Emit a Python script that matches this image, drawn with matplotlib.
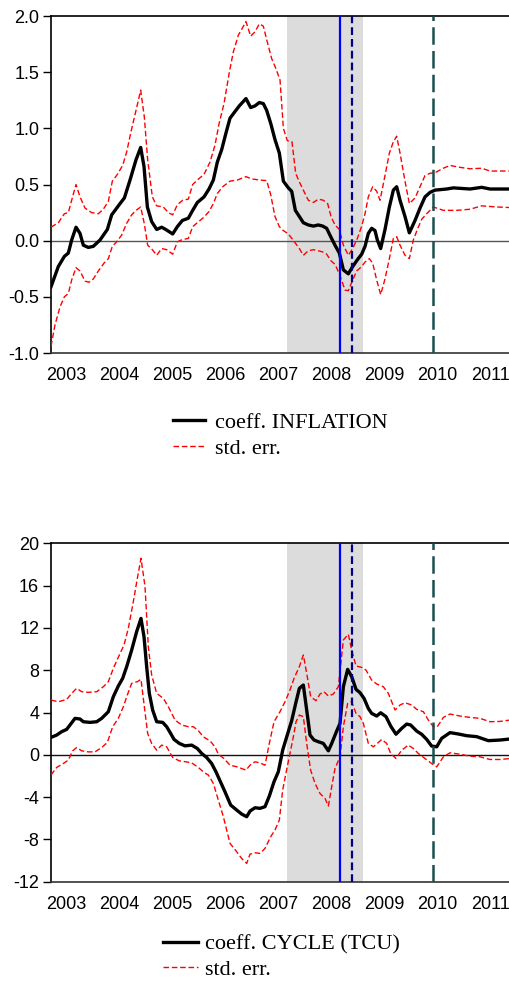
import matplotlib
matplotlib.use('Agg')
import matplotlib.pyplot as plt
from matplotlib.lines import Line2D

# recursive coefficient estimates, x in decimal years (monthly sample)
infl_t = [2003.217, 2003.355, 2003.469, 2003.544, 2003.607, 2003.689, 2003.764, 2003.827, 2003.921, 2004.016,
          2004.142, 2004.280, 2004.362, 2004.425, 2004.519, 2004.601, 2004.708, 2004.821, 2004.909, 2004.972,
          2005.035, 2005.116, 2005.211, 2005.305, 2005.381, 2005.513, 2005.601, 2005.695, 2005.808, 2005.890,
          2005.978, 2006.104, 2006.198, 2006.280, 2006.355, 2006.437, 2006.519, 2006.594, 2006.689, 2006.770,
          2006.896, 2006.984, 2007.066, 2007.148, 2007.223, 2007.286, 2007.362, 2007.443, 2007.525, 2007.601,
          2007.695, 2007.758, 2007.827, 2007.903, 2007.978, 2008.072, 2008.167, 2008.261, 2008.343, 2008.418,
          2008.500, 2008.575, 2008.657, 2008.733, 2008.827, 2008.909, 2008.997, 2009.079, 2009.142, 2009.204,
          2009.267, 2009.330, 2009.374, 2009.437, 2009.519, 2009.601, 2009.676, 2009.739, 2009.802, 2009.896,
          2009.978, 2010.085, 2010.179, 2010.274, 2010.368, 2010.462, 2010.682, 2010.808, 2011.123, 2011.343,
          2011.500, 2011.877]
infl_coef = [-0.41, -0.23, -0.14, -0.11, 0.006, 0.12, 0.065, -0.04, -0.06, -0.05,
             0.006, 0.10, 0.23, 0.27, 0.33, 0.38, 0.54, 0.72, 0.83, 0.66,
             0.30, 0.17, 0.10, 0.12, 0.10, 0.06, 0.125, 0.18, 0.20, 0.27,
             0.34, 0.39, 0.46, 0.54, 0.70, 0.81, 0.96, 1.09, 1.15, 1.20,
             1.265, 1.185, 1.20, 1.23, 1.22, 1.16, 1.045, 0.90, 0.78, 0.53,
             0.47, 0.44, 0.27, 0.215, 0.16, 0.14, 0.13, 0.14, 0.13, 0.11,
             0.03, -0.04, -0.11, -0.26, -0.295, -0.23, -0.17, -0.12, -0.05, 0.065,
             0.11, 0.09, 0.006, -0.07, 0.10, 0.30, 0.45, 0.48, 0.36, 0.215,
             0.07, 0.18, 0.29, 0.39, 0.43, 0.45, 0.46, 0.47, 0.46, 0.475,
             0.46, 0.46]

infl_up_t = [2003.217, 2003.355, 2003.469, 2003.544, 2003.607, 2003.689, 2003.764, 2003.859, 2003.984, 2004.110,
             2004.204, 2004.299, 2004.374, 2004.469, 2004.569, 2004.645, 2004.726, 2004.821, 2004.909, 2004.978,
             2005.041, 2005.129, 2005.211, 2005.336, 2005.431, 2005.513, 2005.601, 2005.701, 2005.808, 2005.890,
             2005.978, 2006.104, 2006.217, 2006.311, 2006.387, 2006.481, 2006.582, 2006.657, 2006.752, 2006.896,
             2006.984, 2007.066, 2007.148, 2007.223, 2007.286, 2007.381, 2007.462, 2007.538, 2007.601, 2007.676,
             2007.764, 2007.833, 2007.896, 2007.978, 2008.072, 2008.167, 2008.261, 2008.355, 2008.437, 2008.500,
             2008.575, 2008.657, 2008.733, 2008.827, 2008.909, 2008.997, 2009.079, 2009.142, 2009.204, 2009.286,
             2009.362, 2009.425, 2009.519, 2009.601, 2009.676, 2009.739, 2009.802, 2009.896, 2009.978, 2010.085,
             2010.179, 2010.274, 2010.368, 2010.462, 2010.620, 2010.745, 2010.903, 2011.123, 2011.343, 2011.500,
             2011.877]
infl_up = [0.12, 0.16, 0.24, 0.25, 0.36, 0.50, 0.39, 0.29, 0.25, 0.24,
           0.28, 0.35, 0.53, 0.59, 0.67, 0.79, 0.97, 1.16, 1.34, 1.10,
           0.72, 0.39, 0.31, 0.30, 0.25, 0.23, 0.32, 0.36, 0.37, 0.50,
           0.54, 0.59, 0.70, 0.85, 1.04, 1.22, 1.50, 1.68, 1.83, 1.95,
           1.82, 1.86, 1.93, 1.91, 1.79, 1.62, 1.53, 1.43, 1.00, 0.89,
           0.88, 0.60, 0.53, 0.45, 0.36, 0.34, 0.37, 0.36, 0.33, 0.215,
           0.14, 0.10, -0.04, -0.13, -0.07, 0.02, 0.13, 0.24, 0.39, 0.48,
           0.44, 0.36, 0.58, 0.78, 0.88, 0.93, 0.78, 0.53, 0.33, 0.38,
           0.48, 0.58, 0.60, 0.605, 0.645, 0.67, 0.655, 0.64, 0.645, 0.62,
           0.62]

infl_lo_t = [2003.217, 2003.292, 2003.387, 2003.469, 2003.544, 2003.607, 2003.689, 2003.764, 2003.859, 2003.934,
             2004.016, 2004.110, 2004.217, 2004.299, 2004.374, 2004.456, 2004.550, 2004.645, 2004.739, 2004.821,
             2004.909, 2004.978, 2005.041, 2005.129, 2005.211, 2005.305, 2005.399, 2005.513, 2005.601, 2005.695,
             2005.808, 2005.890, 2005.978, 2006.104, 2006.198, 2006.280, 2006.355, 2006.456, 2006.594, 2006.733,
             2006.896, 2007.003, 2007.148, 2007.286, 2007.362, 2007.443, 2007.525, 2007.601, 2007.695, 2007.777,
             2007.840, 2007.903, 2007.978, 2008.072, 2008.167, 2008.261, 2008.343, 2008.418, 2008.500, 2008.575,
             2008.657, 2008.764, 2008.827, 2008.909, 2008.984, 2009.079, 2009.142, 2009.223, 2009.286, 2009.362,
             2009.437, 2009.519, 2009.601, 2009.676, 2009.739, 2009.802, 2009.896, 2009.978, 2010.053, 2010.129,
             2010.211, 2010.305, 2010.431, 2010.620, 2010.871, 2011.123, 2011.343, 2011.626, 2011.877]
infl_lo = [-0.94, -0.75, -0.59, -0.50, -0.47, -0.35, -0.24, -0.27, -0.36, -0.37,
           -0.34, -0.27, -0.20, -0.16, -0.05, -0.01, 0.05, 0.155, 0.23, 0.27,
           0.30, 0.15, -0.04, -0.08, -0.13, -0.07, -0.08, -0.12, -0.01, 0.01,
           0.02, 0.125, 0.16, 0.21, 0.26, 0.33, 0.42, 0.48, 0.53, 0.54,
           0.57, 0.55, 0.54, 0.535, 0.41, 0.215, 0.125, 0.09, 0.06, 0.01,
           -0.03, -0.07, -0.13, -0.09, -0.08, -0.09, -0.10, -0.12, -0.18, -0.21,
           -0.295, -0.44, -0.445, -0.35, -0.27, -0.23, -0.19, -0.16, -0.20, -0.35,
           -0.48, -0.34, -0.16, 0.02, 0.036, -0.04, -0.13, -0.16, 0.006, 0.10,
           0.19, 0.24, 0.30, 0.27, 0.27, 0.28, 0.31, 0.30, 0.295]

cyc_t = [2003.217, 2003.324, 2003.418, 2003.513, 2003.575, 2003.670, 2003.764, 2003.827, 2003.953, 2004.079,
         2004.173, 2004.299, 2004.393, 2004.487, 2004.569, 2004.645, 2004.739, 2004.833, 2004.915, 2004.972,
         2005.022, 2005.072, 2005.135, 2005.211, 2005.324, 2005.399, 2005.475, 2005.538, 2005.638, 2005.745,
         2005.871, 2005.978, 2006.060, 2006.154, 2006.248, 2006.330, 2006.406, 2006.500, 2006.607, 2006.720,
         2006.814, 2006.909, 2006.972, 2007.066, 2007.160, 2007.255, 2007.336, 2007.425, 2007.506, 2007.588,
         2007.664, 2007.758, 2007.840, 2007.903, 2007.978, 2008.041, 2008.104, 2008.179, 2008.261, 2008.355,
         2008.450, 2008.513, 2008.607, 2008.670, 2008.733, 2008.814, 2008.890, 2008.972, 2009.047, 2009.123,
         2009.204, 2009.267, 2009.362, 2009.437, 2009.538, 2009.626, 2009.726, 2009.833, 2009.928, 2010.003,
         2010.116, 2010.211, 2010.305, 2010.399, 2010.494, 2010.588, 2010.745, 2010.903, 2011.060, 2011.248,
         2011.469, 2011.689, 2011.877]
cyc_coef = [1.65, 1.87, 2.19, 2.41, 2.82, 3.45, 3.39, 3.13, 3.07, 3.13,
            3.45, 4.08, 5.5, 6.51, 7.23, 8.34, 9.91, 11.65, 12.9, 11.17,
            8.34, 5.81, 4.24, 3.13, 3.07, 2.66, 2.02, 1.46, 1.08, 0.85,
            0.92, 0.6, 0.13, -0.25, -0.82, -1.61, -2.46, -3.5, -4.75, -5.22,
            -5.6, -5.85, -5.32, -5.0, -5.06, -4.9, -3.9, -2.54, -1.6, 0.44,
            1.7, 3.23, 5.0, 6.29, 6.6, 4.24, 1.87, 1.4, 1.24, 1.08,
            0.38, 1.08, 2.25, 2.98, 6.44, 8.08, 7.39, 6.19, 5.88, 5.34,
            4.39, 3.92, 3.67, 3.98, 3.61, 2.72, 1.95, 2.5, 2.91, 2.82,
            2.25, 1.94, 1.46, 0.83, 0.76, 1.56, 2.1, 1.97, 1.81, 1.72,
            1.34, 1.4, 1.5]

cyc_up_t = [2003.217, 2003.355, 2003.513, 2003.607, 2003.701, 2003.796, 2003.921, 2004.079, 2004.204, 2004.299,
            2004.393, 2004.506, 2004.594, 2004.676, 2004.770, 2004.846, 2004.915, 2004.991, 2005.053, 2005.116,
            2005.211, 2005.336, 2005.431, 2005.557, 2005.682, 2005.808, 2005.903, 2005.997, 2006.091, 2006.217,
            2006.311, 2006.374, 2006.481, 2006.594, 2006.733, 2006.896, 2006.972, 2007.066, 2007.160, 2007.255,
            2007.336, 2007.425, 2007.538, 2007.632, 2007.726, 2007.802, 2007.903, 2007.978, 2008.041, 2008.116,
            2008.217, 2008.292, 2008.368, 2008.450, 2008.544, 2008.638, 2008.733, 2008.827, 2008.890, 2008.972,
            2009.079, 2009.160, 2009.267, 2009.362, 2009.487, 2009.582, 2009.708, 2009.802, 2009.896, 2010.022,
            2010.116, 2010.242, 2010.336, 2010.431, 2010.506, 2010.620, 2010.745, 2010.934, 2011.123, 2011.311,
            2011.500, 2011.689, 2011.877]
cyc_up = [5.18, 5.02, 5.24, 5.81, 6.29, 5.97, 5.91, 5.97, 6.44, 6.92,
          8.18, 9.44, 10.38, 11.96, 14.48, 16.69, 18.58, 15.9, 10.23, 7.55,
          5.81, 5.34, 4.55, 3.29, 2.82, 2.66, 2.66, 2.28, 1.7, 1.32,
          0.76, 0.06, -0.35, -0.98, -1.14, -1.45, -0.98, -0.66, -0.76, -0.98,
          1.08, 3.13, 4.08, 5.02, 6.13, 7.23, 8.34, 9.44, 7.71, 5.5,
          5.12, 5.75, 5.97, 5.56, 5.75, 6.44, 10.86, 11.4, 9.91, 8.4,
          8.27, 8.02, 7.07, 6.7, 6.44, 5.81, 4.24, 4.71, 4.93, 4.71,
          4.3, 4.08, 3.29, 2.66, 2.66, 3.54, 3.86, 3.67, 3.54, 3.45,
          3.13, 3.16, 3.29]

cyc_lo_t = [2003.217, 2003.324, 2003.450, 2003.544, 2003.626, 2003.701, 2003.796, 2003.921, 2004.047, 2004.173,
            2004.280, 2004.381, 2004.487, 2004.582, 2004.657, 2004.739, 2004.846, 2004.915, 2004.978, 2005.041,
            2005.116, 2005.211, 2005.305, 2005.399, 2005.513, 2005.638, 2005.764, 2005.871, 2005.997, 2006.104,
            2006.186, 2006.280, 2006.374, 2006.469, 2006.594, 2006.720, 2006.814, 2006.909, 2006.972, 2007.066,
            2007.160, 2007.255, 2007.362, 2007.443, 2007.525, 2007.588, 2007.664, 2007.726, 2007.789, 2007.840,
            2007.903, 2007.978, 2008.041, 2008.116, 2008.198, 2008.292, 2008.387, 2008.450, 2008.513, 2008.575,
            2008.670, 2008.733, 2008.814, 2008.890, 2008.972, 2009.047, 2009.110, 2009.204, 2009.299, 2009.374,
            2009.456, 2009.550, 2009.626, 2009.726, 2009.833, 2009.959, 2010.053, 2010.148, 2010.274, 2010.399,
            2010.494, 2010.620, 2010.745, 2010.934, 2011.123, 2011.311, 2011.500, 2011.689, 2011.877]
cyc_lo = [-1.91, -1.19, -0.82, -0.5, 0.38, 0.69, 0.38, 0.28, 0.28, 0.69,
          1.17, 2.66, 3.45, 4.55, 5.66, 6.76, 6.92, 7.14, 4.55, 2.02,
          1.08, 0.44, 0.92, 0.76, -0.25, -0.57, -0.66, -0.76, -1.19, -1.67,
          -1.91, -2.7, -4.28, -5.85, -8.37, -9.16, -9.8, -10.27, -9.39, -9.26,
          -9.32, -8.85, -7.74, -7.11, -6.17, -3.33, -1.38, 0.13, 1.7, 3.13,
          3.76, 3.61, 1.08, -1.45, -2.7, -3.65, -4.12, -4.84, -3.02, -1.29,
          -0.19, 2.66, 4.87, 5.02, 3.92, 3.61, 2.98, 1.08, 0.76, 1.08,
          1.45, 1.08, 0.13, -0.35, 0.44, 0.92, 0.6, 0.13, -0.35, -0.82,
          -1.14, -0.19, 0.19, 0.06, -0.13, -0.19, -0.44, -0.44, -0.35]

# event dates and crisis window
crisis_start, crisis_end = 2007.670, 2009.110
event_solid = 2008.670
event_dash = 2008.903
event_long = 2010.431

years = list(range(2003, 2012))
t_min, t_max = 2003.217, 2011.877

plt.rcParams['font.family'] = ['Liberation Sans', 'DejaVu Sans']

fig = plt.figure(figsize=(5.10, 9.82), dpi=100)
ax1 = fig.add_axes([0.1, 0.6405, 0.9, 0.3432])
ax2 = fig.add_axes([0.1, 0.1021, 0.9, 0.3446])


def draw_panel(ax, t, coef, tu, up, tl, lo, ylim, yticks, ylabels, zero_color):
    ax.axvspan(crisis_start, crisis_end, color='#dcdcdc', lw=0, zorder=0)
    ax.axhline(0, color=zero_color, lw=1.0, zorder=1)
    ax.plot(tu, up, color='red', lw=1.0, ls=(0, (4, 2)), zorder=3)
    ax.plot(tl, lo, color='red', lw=1.0, ls=(0, (4, 2)), zorder=3)
    ax.plot(t, coef, color='black', lw=2.4, zorder=4, solid_joinstyle='round')
    ax.axvline(event_solid, color='#0000ff', lw=1.6, zorder=5)
    ax.axvline(event_dash, color='#000080', lw=1.6, ls=(0, (3.5, 1.8)), zorder=5)
    ax.axvline(event_long, color='#1b4f4f', lw=1.8, ls=(0, (7, 2.5)), zorder=5)
    ax.set_xlim(t_min, t_max)
    ax.set_ylim(*ylim)
    ax.set_yticks(yticks)
    ax.set_yticklabels(ylabels)
    ax.set_xticks([y + 0.5 for y in years])
    ax.set_xticklabels([str(y) for y in years])
    ax.tick_params(axis='y', direction='out', length=6, width=1, pad=2.5, labelsize=13)
    ax.tick_params(axis='x', length=0, pad=10, labelsize=13)
    ax.spines['right'].set_visible(False)
    for s in ['top', 'left', 'bottom']:
        ax.spines[s].set_linewidth(1.2)
    ax.spines['bottom'].set_color('#333333')


draw_panel(ax1, infl_t, infl_coef, infl_up_t, infl_up, infl_lo_t, infl_lo,
           (-1.0, 2.0), [-1.0, -0.5, 0.0, 0.5, 1.0, 1.5, 2.0],
           ['-1.0', '-0.5', '0.0', '0.5', '1.0', '1.5', '2.0'], '#555555')
draw_panel(ax2, cyc_t, cyc_coef, cyc_up_t, cyc_up, cyc_lo_t, cyc_lo,
           (-12, 20), [-12, -8, -4, 0, 4, 8, 12, 16, 20],
           ['-12', '-8', '-4', '0', '4', '8', '12', '16', '20'], '#111111')

legend_font = {'family': 'Liberation Serif', 'size': 16}
handles_top = [Line2D([], [], color='black', lw=2.4),
               Line2D([], [], color='red', lw=1.0, ls=(0, (4, 2)))]
fig.legend(handles_top, ['coeff. INFLATION', 'std. err.'], loc='upper left',
           bbox_to_anchor=(0.339, 0.580), frameon=False, prop=legend_font,
           handlelength=1.45, handletextpad=0.45, labelspacing=0.25, borderpad=0, borderaxespad=0)
handles_bot = [Line2D([], [], color='black', lw=2.4),
               Line2D([], [], color='red', lw=1.0, ls=(0, (4, 2)))]
fig.legend(handles_bot, ['coeff. CYCLE (TCU)', 'std. err.'], loc='upper left',
           bbox_to_anchor=(0.32, 0.0485), frameon=False, prop=legend_font,
           handlelength=1.55, handletextpad=0.35, labelspacing=0.2, borderpad=0, borderaxespad=0)

fig.savefig('out.png', dpi=100)
